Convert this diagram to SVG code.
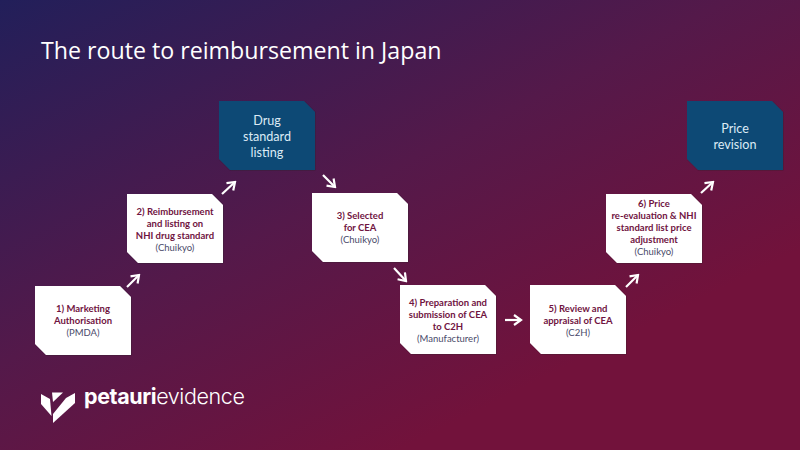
<svg xmlns="http://www.w3.org/2000/svg" width="800" height="450" viewBox="0 0 800 450">
<defs>
<linearGradient id="bg" gradientUnits="userSpaceOnUse" x1="0" y1="0" x2="260" y2="520">
<stop offset="0" stop-color="#221f5a"/><stop offset="0.56" stop-color="#54194a"/><stop offset="1" stop-color="#72123b"/>
</linearGradient>
<marker id="ah" markerUnits="userSpaceOnUse" markerWidth="12" markerHeight="12" refX="10" refY="6" orient="auto" viewBox="0 0 12 12"><path d="M3 1L10 6L3 11" fill="none" stroke="#fff" stroke-width="2.2"/></marker>
<filter id="sh" x="-5%" y="-5%" width="110%" height="110%"><feDropShadow dx="0.5" dy="0.5" stdDeviation="0.7" flood-color="#200a20" flood-opacity="0.5"/></filter>
</defs>
<style>
text{font-family:"Lato","Open Sans","Liberation Sans",sans-serif;text-anchor:middle}
.w{fill:#fff;filter:url(#sh)}.b{fill:#0e4a75;filter:url(#sh)}
.h{font-size:9.5px;font-weight:700;fill:#70143f}.s{font-size:9.5px;fill:#4a4a6a}
.l{font-size:12.6px;fill:#dcebf5}
.c{stroke:#fff;stroke-width:2.2;fill:none;marker-end:url(#ah)}
</style>
<rect width="800" height="450" fill="url(#bg)"/>
<text x="41" y="59" style="font-family:'Open Sans','Liberation Sans',sans-serif;font-size:23.2px;text-anchor:start" fill="#fff">The route to reimbursement in Japan</text>
<g id="connectors">
<path class="c" d="M127 287L139 275"/>
<path class="c" d="M222 194L235 182"/>
<path class="c" d="M323 175L335 187"/>
<path class="c" d="M394 268L406 281"/>
<path class="c" d="M505 320L521 320"/>
<path class="c" d="M626 287L638 275"/>
<path class="c" d="M701 193L713 182"/>
</g>
<g id="node1"><path class="w" d="M35 286H120L131 297V355H46L35 344Z"/><text class="h" x="83" y="312">1) Marketing</text><text class="h" x="83" y="324">Authorisation</text><text class="s" x="83" y="336">(PMDA)</text></g>
<g id="node2"><path class="w" d="M127 194H212L223 205V263H138L127 252Z"/><text class="h" x="175" y="215">2) Reimbursement</text><text class="h" x="175" y="227">and listing on</text><text class="h" x="175" y="239">NHI drug standard</text><text class="s" x="175" y="251">(Chuikyo)</text></g>
<g id="drug"><path class="b" d="M219 101H304L315 112V170H230L219 159Z"/><text class="l" x="267" y="125">Drug</text><text class="l" x="267" y="141">standard</text><text class="l" x="267" y="157">listing</text></g>
<g id="node3"><path class="w" d="M312 193H397L408 204V262H323L312 251Z"/><text class="h" x="360" y="219">3) Selected</text><text class="h" x="360" y="231">for CEA</text><text class="s" x="360" y="243">(Chuikyo)</text></g>
<g id="node4"><path class="w" d="M400 285H485L496 296V354H411L400 343Z"/><text class="h" x="448" y="306">4) Preparation and</text><text class="h" x="448" y="318">submission of CEA</text><text class="h" x="448" y="330">to C2H</text><text class="s" x="448" y="342">(Manufacturer)</text></g>
<g id="node5"><path class="w" d="M530 285H615L626 296V354H541L530 343Z"/><text class="h" x="578" y="312">5) Review and</text><text class="h" x="578" y="324">appraisal of CEA</text><text class="s" x="578" y="336">(C2H)</text></g>
<g id="node6"><path class="w" d="M606 194H691L702 205V263H617L606 252Z"/><text class="h" x="654" y="207">6) Price</text><text class="h" x="654" y="219">re-evaluation &amp; NHI</text><text class="h" x="654" y="231">standard list price</text><text class="h" x="654" y="243">adjustment</text><text class="s" x="654" y="255">(Chuikyo)</text></g>
<g id="price"><path class="b" d="M687 101H772L783 112V170H698L687 159Z"/><text class="l" x="735" y="133">Price</text><text class="l" x="735" y="149">revision</text></g>
<g id="logo">
<path d="M41 394L50 399L51.5 416L41 404Z" fill="#fff"/>
<path d="M75 393L66 398L53 414V423L75 403Z" fill="#fff"/>
<path d="M52 392.5H63L53 402Z" fill="#fff"/>
<text x="84" y="404" style="text-anchor:start;font-family:'Inter','Liberation Sans',sans-serif;font-size:21.5px;letter-spacing:-0.4px" fill="#fff"><tspan font-weight="700">petauri</tspan><tspan font-weight="300">evidence</tspan></text>
</g>
</svg>
